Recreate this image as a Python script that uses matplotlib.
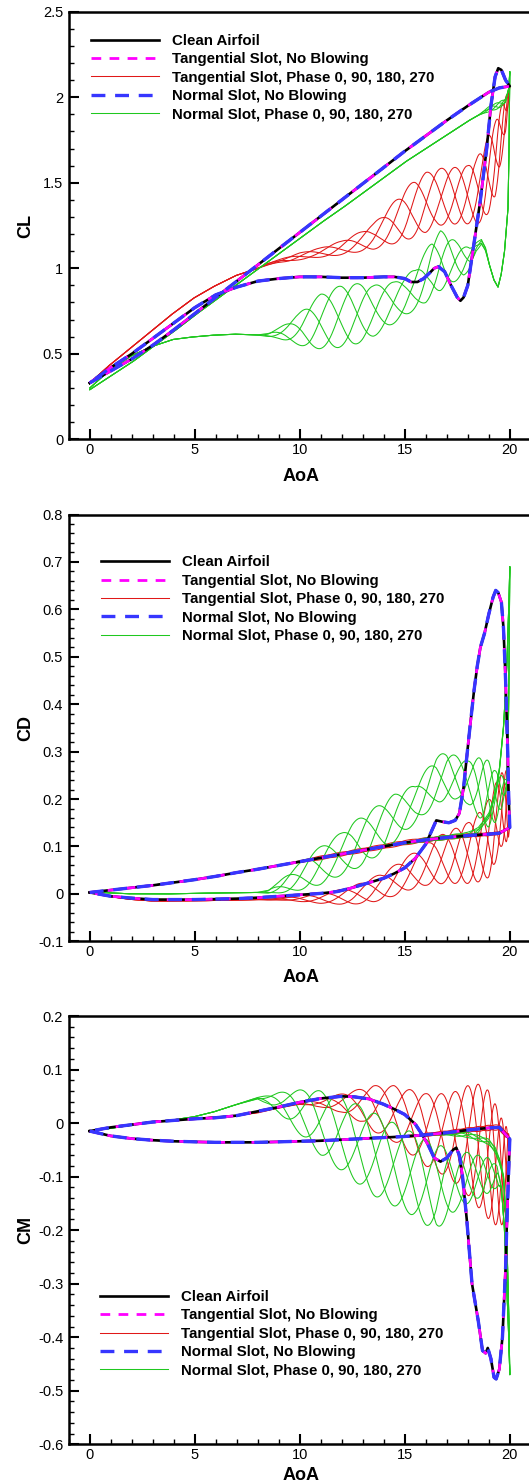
import numpy as np
import matplotlib
matplotlib.use("Agg")
import matplotlib.pyplot as plt
from matplotlib.ticker import MultipleLocator, FuncFormatter
from matplotlib.lines import Line2D

plt.rcParams['font.family'] = ['Liberation Sans', 'DejaVu Sans']
plt.rcParams['lines.scale_dashes'] = False

# ---------------- data ----------------
# number of blowing cycles per pitching cycle, and blowing phases (deg)
N_CYC = 17
PHASES = [0, 90, 180, 270]

# common upstroke (clean / no blowing)
UP_AOA = [0, 1, 2, 3, 4, 5, 6, 7, 8, 9, 10, 11, 12, 13, 14, 15, 16, 17, 18, 19, 19.5, 20]
CL_UP = [0.33, 0.40, 0.47, 0.55, 0.64, 0.735, 0.83, 0.925, 1.02, 1.115, 1.21, 1.305, 1.40, 1.495,
         1.59, 1.685, 1.775, 1.865, 1.95, 2.03, 2.055, 2.065]
CD_UP = [0.003, 0.008, 0.013, 0.018, 0.024, 0.03, 0.037, 0.045, 0.052, 0.06, 0.068, 0.076, 0.084,
         0.092, 0.1, 0.108, 0.114, 0.119, 0.123, 0.126, 0.128, 0.14]
CM_UP = [-0.015, -0.024, -0.029, -0.032, -0.034, -0.035, -0.036, -0.036, -0.036, -0.035, -0.034,
         -0.033, -0.031, -0.029, -0.027, -0.025, -0.022, -0.018, -0.013, -0.009, -0.008, -0.03]

# clean airfoil downstroke
CL_DN_AOA = [0, 1, 2, 3, 4, 5, 6, 7, 8, 9, 10, 11, 12, 13, 14, 14.5, 15, 15.3, 15.6, 15.9, 16.2, 16.4,
             16.6, 16.9, 17.2, 17.5, 17.65, 17.8, 18.0, 18.3, 18.6, 18.9, 19.1, 19.3, 19.45, 19.6, 19.8, 20]
CL_DN = [0.33, 0.42, 0.5, 0.59, 0.68, 0.77, 0.845, 0.89, 0.925, 0.94, 0.95, 0.95, 0.945, 0.945, 0.95,
         0.95, 0.94, 0.92, 0.92, 0.94, 0.975, 1.0, 1.01, 0.98, 0.9, 0.83, 0.81, 0.83, 0.9, 1.15, 1.4,
         1.7, 1.95, 2.12, 2.17, 2.16, 2.1, 2.065]
CD_DN_AOA = [0, 1, 2, 3, 4, 5, 6, 7, 8, 9, 10, 11, 11.8, 12.5, 13.4, 14, 14.5, 15, 15.5, 16, 16.3, 16.5,
             16.8, 17.1, 17.4, 17.6, 17.8, 18.05, 18.3, 18.45, 18.6, 18.8, 19.0, 19.2, 19.33, 19.45,
             19.6, 19.7, 19.8, 19.9, 19.95, 20]
CD_DN = [0.003, -0.005, -0.009, -0.012, -0.012, -0.012, -0.011, -0.01, -0.008, -0.005, -0.002, 0.001,
         0.005, 0.013, 0.025, 0.033, 0.043, 0.055, 0.075, 0.105, 0.135, 0.155, 0.152, 0.15, 0.155,
         0.17, 0.225, 0.33, 0.43, 0.48, 0.52, 0.55, 0.59, 0.625, 0.64, 0.635, 0.615, 0.56, 0.45, 0.3,
         0.2, 0.14]
CM_DN_AOA = [0, 1, 2, 3, 4, 5, 6, 7, 8, 9, 10, 11, 12, 12.6, 13.3, 14, 14.5, 15, 15.5, 15.8, 16.1, 16.4,
             16.7, 17.0, 17.3, 17.45, 17.6, 17.75, 17.95, 18.2, 18.5, 18.7, 18.85, 18.95, 19.1, 19.25,
             19.35, 19.5, 19.65, 19.8, 19.85, 19.95, 20]
CM_DN = [-0.015, -0.008, -0.003, 0.002, 0.005, 0.008, 0.01, 0.014, 0.022, 0.03, 0.039, 0.046, 0.05,
         0.049, 0.045, 0.035, 0.026, 0.016, -0.002, -0.02, -0.04, -0.065, -0.072, -0.065, -0.05,
         -0.046, -0.06, -0.1, -0.18, -0.3, -0.37, -0.425, -0.43, -0.42, -0.44, -0.475, -0.478, -0.46,
         -0.4, -0.27, -0.2, -0.085, -0.03]

# tangential slot with blowing: downstroke envelope (upper / lower)
TB_CL_DN_AOA = [0, 1, 2, 3, 4, 5, 6, 7, 8, 8.5, 9, 9.5, 10, 10.5, 11, 11.5, 12, 12.5, 13, 13.5, 14,
                14.5, 15, 15.5, 16, 16.5, 17, 17.5, 18, 18.4, 18.7, 19, 19.3, 19.5, 19.65, 19.8, 19.9, 20]
TB_CL_HI = [0.33, 0.44, 0.54, 0.64, 0.74, 0.83, 0.9, 0.96, 1.0, 1.03, 1.05, 1.07, 1.09, 1.105, 1.12,
            1.14, 1.16, 1.19, 1.22, 1.26, 1.32, 1.39, 1.46, 1.52, 1.56, 1.58, 1.59, 1.59, 1.6, 1.64,
            1.7, 1.78, 1.85, 1.92, 1.96, 2.0, 2.03, 2.065]
TB_CL_LO = [0.33, 0.44, 0.54, 0.64, 0.74, 0.83, 0.9, 0.96, 1.0, 1.02, 1.035, 1.04, 1.05, 1.06, 1.065,
            1.07, 1.08, 1.09, 1.1, 1.11, 1.13, 1.145, 1.16, 1.185, 1.21, 1.25, 1.255, 1.26, 1.26, 1.26,
            1.27, 1.33, 1.42, 1.55, 1.68, 1.8, 1.92, 2.065]
TB_CL_AMP_AOA = [0, 20]
TB_CL_AMP = [0, 0]

TB_CD_DN_AOA = [0, 1, 2, 3, 4, 6, 8, 8.5, 9, 9.5, 10, 10.5, 11, 11.5, 12, 12.5, 13, 13.5, 14, 14.5, 15,
                15.5, 16, 16.5, 17, 17.5, 18, 18.4, 18.7, 19, 19.2, 19.4, 19.6, 19.8, 19.92, 20]
TB_CD_HI = [0.003, -0.006, -0.012, -0.015, -0.015, -0.014, -0.012, -0.011, -0.009, -0.006, -0.003,
            -0.001, 0.002, 0.005, 0.01, 0.016, 0.025, 0.035, 0.045, 0.06, 0.075, 0.09, 0.105, 0.12,
            0.13, 0.14, 0.15, 0.165, 0.18, 0.2, 0.22, 0.24, 0.255, 0.26, 0.26, 0.14]
TB_CD_LO = [0.003, -0.006, -0.012, -0.015, -0.015, -0.014, -0.012, -0.013, -0.013, -0.014, -0.016,
            -0.018, -0.02, -0.021, -0.022, -0.022, -0.02, -0.017, -0.012, -0.004, 0.005, 0.012, 0.018,
            0.021, 0.022, 0.022, 0.022, 0.024, 0.028, 0.035, 0.05, 0.08, 0.1, 0.11, 0.11, 0.14]
TB_CD_AMP_AOA = [0, 9, 11, 15, 18, 19.5, 20]
TB_CD_AMP = [0, 0, 0.004, 0.005, 0.004, 0.003, 0]

TB_CM_DN_AOA = [0, 1.5, 3, 5, 7, 8, 9, 10, 10.5, 11, 11.5, 12, 12.5, 13, 13.5, 14, 14.5, 15, 15.5, 16,
                16.5, 17, 17.5, 18, 18.3, 18.7, 19, 19.2, 19.5, 19.7, 19.9, 20]
TB_CM_HI = [-0.015, -0.005, 0.003, 0.009, 0.014, 0.021, 0.03, 0.04, 0.042, 0.045, 0.05, 0.055, 0.06,
            0.065, 0.07, 0.07, 0.07, 0.065, 0.06, 0.055, 0.055, 0.055, 0.06, 0.07, 0.075, 0.07, 0.06,
            0.045, 0.02, 0.0, -0.01, -0.03]
TB_CM_LO = [-0.015, -0.005, 0.003, 0.009, 0.014, 0.019, 0.028, 0.035, 0.033, 0.03, 0.025, 0.02, 0.01,
            0.0, -0.015, -0.025, -0.035, -0.05, -0.065, -0.08, -0.09, -0.1, -0.115, -0.135, -0.15,
            -0.165, -0.18, -0.19, -0.19, -0.19, -0.15, -0.03]
TB_CM_AMP_AOA = [0, 14, 16, 19, 19.8, 20]
TB_CM_AMP = [0, 0, 0.003, 0.005, 0.005, 0]

# normal slot with blowing
NB_CL_UP_AOA = [0, 1, 2, 3, 4, 5, 6, 7, 8, 9, 10, 11, 12, 13, 14, 15, 16, 17, 18, 19, 19.5, 19.8, 19.95, 20]
NB_CL_UP = [0.29, 0.37, 0.45, 0.54, 0.63, 0.725, 0.815, 0.905, 0.995, 1.085, 1.175, 1.265, 1.35, 1.44,
            1.53, 1.62, 1.7, 1.78, 1.86, 1.93, 1.955, 1.98, 2.05, 2.15]
NB_CL_AMP_AOA = [0, 18.5, 19, 19.5, 19.8, 20]
NB_CL_AMP = [0, 0, 0.015, 0.02, 0.01, 0]
NB_CL_DN_AOA = [0, 1, 2, 3, 4, 5, 6, 7, 8, 8.5, 9, 9.5, 10, 10.5, 11, 11.5, 12, 12.5, 13, 13.5, 14, 14.5,
                15, 15.5, 16, 16.3, 16.7, 17, 17.5, 17.8, 18.1, 18.4, 18.65, 18.85, 19.05, 19.25, 19.44,
                19.6, 19.76, 19.92, 19.97, 20]
NB_CL_HI = [0.3, 0.41, 0.49, 0.545, 0.585, 0.6, 0.61, 0.615, 0.61, 0.62, 0.65, 0.69, 0.74, 0.8, 0.85,
            0.88, 0.9, 0.91, 0.91, 0.9, 0.91, 0.92, 0.95, 1.0, 1.1, 1.17, 1.22, 1.2, 1.15, 1.13, 1.12,
            1.15, 1.17, 1.12, 1.01, 0.93, 0.89, 0.97, 1.11, 1.36, 1.75, 2.15]
NB_CL_LO = [0.3, 0.41, 0.49, 0.545, 0.585, 0.6, 0.61, 0.615, 0.61, 0.6, 0.59, 0.57, 0.55, 0.53, 0.53,
            0.53, 0.54, 0.55, 0.57, 0.6, 0.64, 0.68, 0.72, 0.76, 0.8, 0.84, 0.87, 0.9, 0.93, 0.95, 1.0,
            1.1, 1.14, 1.1, 1.01, 0.93, 0.89, 0.97, 1.11, 1.36, 1.75, 2.15]

NB_CD_UP_AOA = [0, 2, 4, 6, 8, 10, 12, 14, 16, 17, 18, 18.5, 19, 19.3, 19.5, 19.7, 19.85, 19.95, 20]
NB_CD_UP = [0.003, 0.013, 0.024, 0.037, 0.052, 0.068, 0.084, 0.1, 0.114, 0.119, 0.125, 0.135, 0.165,
            0.21, 0.26, 0.35, 0.47, 0.6, 0.69]
NB_CD_AMP_AOA = [0, 14, 16, 18, 19, 20]
NB_CD_AMP = [0, 0, 0.004, 0.005, 0.005, 0]
NB_CD_DN_AOA = [0, 1, 2, 4, 6, 8, 8.5, 9, 9.5, 10, 10.5, 11, 11.5, 12, 12.5, 13, 13.5, 14, 14.5, 15,
                15.5, 16, 16.5, 17, 17.5, 18, 18.4, 18.7, 19, 19.3, 19.6, 19.85, 19.93, 19.97, 20]
NB_CD_HI = [0.004, 0.002, 0.0, 0.0, 0.002, 0.003, 0.008, 0.025, 0.045, 0.065, 0.085, 0.1, 0.115, 0.13,
            0.15, 0.165, 0.18, 0.195, 0.21, 0.22, 0.23, 0.26, 0.29, 0.3, 0.29, 0.28, 0.285, 0.29, 0.28,
            0.26, 0.25, 0.24, 0.33, 0.5, 0.69]
NB_CD_LO = [0.004, 0.002, 0.0, 0.0, 0.002, 0.003, 0.001, 0.002, 0.004, 0.008, 0.013, 0.02, 0.03, 0.04,
            0.05, 0.06, 0.075, 0.09, 0.11, 0.13, 0.15, 0.17, 0.19, 0.2, 0.2, 0.19, 0.17, 0.15, 0.14,
            0.15, 0.18, 0.22, 0.33, 0.5, 0.69]

NB_CM_UP_AOA = [0, 1, 2, 3, 4, 5, 6, 8, 10, 12, 14, 16, 17, 18, 18.5, 19, 19.3, 19.5, 19.7, 19.85, 19.95, 20]
NB_CM_UP = [-0.015, -0.024, -0.029, -0.032, -0.034, -0.035, -0.036, -0.036, -0.034, -0.031, -0.027,
            -0.022, -0.02, -0.022, -0.028, -0.035, -0.05, -0.07, -0.1, -0.2, -0.35, -0.47]
NB_CM_AMP_AOA = [0, 16, 18, 19.5, 20]
NB_CM_AMP = [0, 0, 0.005, 0.005, 0]
NB_CM_DN_AOA = [0, 1, 2, 3, 4, 5, 6, 7, 8, 8.5, 9, 9.5, 10, 10.5, 11, 11.5, 12, 12.5, 13, 13.5, 14, 14.5,
                15, 15.5, 16, 16.5, 17, 17.5, 18, 18.5, 19, 19.4, 19.6, 19.75, 19.85, 19.95, 20]
NB_CM_HI = [-0.015, -0.01, -0.004, 0.002, 0.006, 0.012, 0.022, 0.035, 0.048, 0.052, 0.057, 0.06, 0.062,
            0.063, 0.06, 0.055, 0.05, 0.04, 0.03, 0.02, 0.01, 0.0, -0.01, -0.02, -0.03, -0.04, -0.045,
            -0.05, -0.055, -0.06, -0.065, -0.08, -0.12, -0.2, -0.3, -0.4, -0.47]
NB_CM_LO = [-0.015, -0.01, -0.004, 0.002, 0.006, 0.012, 0.022, 0.035, 0.045, 0.035, 0.02, 0.0, -0.02,
            -0.04, -0.06, -0.075, -0.09, -0.105, -0.12, -0.135, -0.145, -0.155, -0.165, -0.175, -0.19,
            -0.2, -0.18, -0.16, -0.15, -0.14, -0.13, -0.12, -0.12, -0.2, -0.3, -0.4, -0.47]

LEGEND_LABELS = ["Clean Airfoil", "Tangential Slot, No Blowing", "Tangential Slot, Phase 0, 90, 180, 270",
                 "Normal Slot, No Blowing", "Normal Slot, Phase 0, 90, 180, 270"]

# ---------------- styles ----------------
C_RED = '#E01818'
C_GREEN = '#1FC81F'
C_MAG = '#FF00FF'
C_BLUE = '#3636FF'
STY_CLEAN = dict(color='black', lw=1.9, ls='-')
STY_TNB = dict(color=C_MAG, lw=2.0, ls=(0, (7, 6)))
STY_NNB = dict(color=C_BLUE, lw=2.4, ls=(0, (10, 7)))
STY_TB = dict(color=C_RED, lw=0.75, ls='-')
STY_NB = dict(color=C_GREEN, lw=0.75, ls='-')


def blown_loop(up_a, up_v, amp_a, amp_v, dn_a, dn_hi, dn_lo, phase):
    th = np.linspace(0.0, 2 * np.pi, 9001)
    aoa = 10.0 - 10.0 * np.cos(th)            # pitching 0 -> 20 -> 0 deg
    s = np.sin(N_CYC * th + np.radians(phase))
    up = th <= np.pi
    val = np.empty_like(th)
    val[up] = np.interp(aoa[up], up_a, up_v) + np.interp(aoa[up], amp_a, amp_v) * s[up]
    hi = np.interp(aoa[~up], dn_a, dn_hi)
    lo = np.interp(aoa[~up], dn_a, dn_lo)
    val[~up] = 0.5 * (hi + lo) + 0.5 * (hi - lo) * s[~up]
    return aoa, val


def closed(up_a, up_v, dn_a, dn_v):
    return list(up_a) + list(dn_a)[::-1], list(up_v) + list(dn_v)[::-1]


W, H = 529, 1484
fig = plt.figure(figsize=(W / 100, H / 100), dpi=100)

L = 68.8 / W
AW = 462.0 / W
panels = [
    dict(top=11.8, bot=439.3, ylim=(0, 2.5), major=0.5, minor=0.1, ylabel='CL',
         up=CL_UP, dn_a=CL_DN_AOA, dn=CL_DN,
         tb=(UP_AOA, CL_UP, TB_CL_AMP_AOA, TB_CL_AMP, TB_CL_DN_AOA, TB_CL_HI, TB_CL_LO),
         nb=(NB_CL_UP_AOA, NB_CL_UP, NB_CL_AMP_AOA, NB_CL_AMP, NB_CL_DN_AOA, NB_CL_HI, NB_CL_LO),
         leg=(0.048, 0.948), xlab=-0.068),
    dict(top=514.5, bot=941.3, ylim=(-0.1, 0.8), major=0.1, minor=0.02, ylabel='CD',
         up=CD_UP, dn_a=CD_DN_AOA, dn=CD_DN,
         tb=(UP_AOA, CD_UP, TB_CD_AMP_AOA, TB_CD_AMP, TB_CD_DN_AOA, TB_CD_HI, TB_CD_LO),
         nb=(NB_CD_UP_AOA, NB_CD_UP, NB_CD_AMP_AOA, NB_CD_AMP, NB_CD_DN_AOA, NB_CD_HI, NB_CD_LO),
         leg=(0.0697, 0.904), xlab=-0.066),
    dict(top=1016.0, bot=1444.3, ylim=(-0.6, 0.2), major=0.1, minor=0.02, ylabel='CM',
         up=CM_UP, dn_a=CM_DN_AOA, dn=CM_DN,
         tb=(UP_AOA, CM_UP, TB_CM_AMP_AOA, TB_CM_AMP, TB_CM_DN_AOA, TB_CM_HI, TB_CM_LO),
         nb=(NB_CM_UP_AOA, NB_CM_UP, NB_CM_AMP_AOA, NB_CM_AMP, NB_CM_DN_AOA, NB_CM_HI, NB_CM_LO),
         leg=(0.0665, 0.360), xlab=-0.052),
]

fmt = FuncFormatter(lambda v, p: '%g' % round(v, 6))

for P in panels:
    ax = fig.add_axes([L, (H - P['bot']) / H, AW, (P['bot'] - P['top']) / H])
    # blowing cases (thin)
    for ph in PHASES:
        a, v = blown_loop(*P['tb'], ph)
        ax.plot(a, v, zorder=2, **STY_TB)
    for ph in PHASES:
        a, v = blown_loop(*P['nb'], ph)
        ax.plot(a, v, zorder=2.1, **STY_NB)
    xa, ya = closed(UP_AOA, P['up'], P['dn_a'], P['dn'])
    ax.plot(xa, ya, zorder=3, **STY_CLEAN)
    ax.plot(xa, ya, zorder=3.1, **STY_TNB)
    ax.plot(xa, ya, zorder=3.2, **STY_NNB)

    ax.set_xlim(-1, 21)
    ax.set_ylim(*P['ylim'])
    ax.xaxis.set_major_locator(MultipleLocator(5))
    ax.xaxis.set_minor_locator(MultipleLocator(1))
    ax.yaxis.set_major_locator(MultipleLocator(P['major']))
    ax.yaxis.set_minor_locator(MultipleLocator(P['minor']))
    ax.xaxis.set_major_formatter(fmt)
    ax.yaxis.set_major_formatter(fmt)
    ax.tick_params(which='both', direction='in', top=False, right=False, colors='black')
    ax.tick_params(which='major', length=7, width=1.5, labelsize=10.5)
    ax.tick_params(which='minor', length=3.5, width=1.0)
    ax.tick_params(axis='x', which='major', pad=3)
    ax.tick_params(axis='y', which='major', pad=4)
    for sp in ax.spines.values():
        sp.set_linewidth(1.8)

    ax.set_xlabel('AoA', fontsize=13, fontweight='bold')
    ax.set_ylabel(P['ylabel'], fontsize=13, fontweight='bold')
    ax.xaxis.set_label_coords(0.502, P['xlab'])
    ax.yaxis.set_label_coords(-0.075, 0.5)

    handles = [Line2D([], [], **STY_CLEAN), Line2D([], [], **STY_TNB), Line2D([], [], **STY_TB),
               Line2D([], [], **STY_NNB), Line2D([], [], **STY_NB)]
    ax.legend(handles, LEGEND_LABELS, loc='upper left', bbox_to_anchor=P['leg'],
              frameon=False, borderpad=0, borderaxespad=0, handlelength=4.55,
              handletextpad=0.86, labelspacing=0.29,
              prop={'weight': 'bold', 'size': 10.8})

fig.savefig('out.png', dpi=100)
